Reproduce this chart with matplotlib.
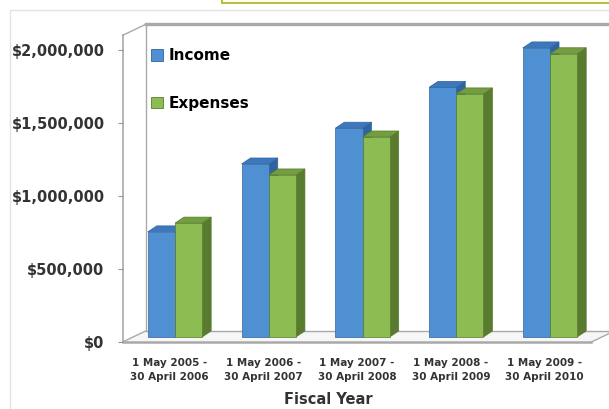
import matplotlib
matplotlib.use('Agg')
import matplotlib.pyplot as plt
from matplotlib.patches import Polygon, Rectangle, Patch
from matplotlib.lines import Line2D
from matplotlib.transforms import IdentityTransform, ScaledTranslation

# data
years = ['1 May 2005 -\n30 April 2006', '1 May 2006 -\n30 April 2007',
         '1 May 2007 -\n30 April 2008', '1 May 2008 -\n30 April 2009',
         '1 May 2009 -\n30 April 2010']
income = [720000, 1185000, 1430000, 1710000, 1980000]
expenses = [780000, 1110000, 1370000, 1665000, 1940000]
yticks = [0, 500000, 1000000, 1500000, 2000000]
ytick_labels = [r'\$0', r'\$500,000', r'\$1,000,000', r'\$1,500,000', r'\$2,000,000']

W, H = 609, 409
FONT = ['DejaVu Sans']
INC = ('#4f90d2', '#3d78bd', '#2f64a0')   # front, top, side
EXP = ('#8dbc52', '#739e3f', '#587b2f')
WALL = '#a9a9a9'

fig = plt.figure(figsize=(W / 100, H / 100), dpi=100)
ax = fig.add_axes([122.6 / W, (H - 342) / H, 468.8 / W, 306.6 / H])
ax.patch.set_visible(False)
ax.set_xlim(-0.5, 4.5)
ax.set_ylim(0, 2100000)
for s in ax.spines.values():
    s.set_visible(False)

# bars sit a little behind the front plane
bar_off = ax.transData + ScaledTranslation(5.5 / 100, 5 / 100, fig.dpi_scale_trans)
wall_d = (23, 11)   # depth of the walls, px
bar_d = (9, 6)      # depth of the bars, px
w = 0.29


def px(trans, x, y):
    return trans.transform((x, y))


def bar3d(xl, val, cols):
    (x0, y0), (x1, y1) = px(bar_off, xl, 0), px(bar_off, xl + w, val)
    dx, dy = bar_d
    side = [(x1, y0), (x1, y1), (x1 + dx, y1 + dy), (x1 + dx, y0 + dy)]
    top = [(x0, y1), (x1, y1), (x1 + dx, y1 + dy), (x0 + dx, y1 + dy)]
    ax.add_patch(Polygon(side, closed=True, fc=cols[2], ec=cols[2], lw=0.5,
                         transform=IdentityTransform(), clip_on=False))
    ax.add_patch(Polygon(top, closed=True, fc=cols[1], ec=cols[2], lw=0.5,
                         transform=IdentityTransform(), clip_on=False))
    ax.add_patch(Rectangle((xl, 0), w, val, fc=cols[0], ec=cols[2], lw=0.5,
                           transform=bar_off, clip_on=False))


for i in range(len(years)):
    bar3d(i - w, income[i], INC)
    bar3d(i, expenses[i], EXP)

# walls and floor
fbl = px(ax.transData, -0.5, 0)
fbr = px(ax.transData, 4.5, 0)
ftl = px(ax.transData, -0.5, 2100000)
bbl = (fbl[0] + wall_d[0], fbl[1] + wall_d[1])
bbr = (fbr[0] + wall_d[0], fbr[1] + wall_d[1])
btl = (ftl[0] + wall_d[0], ftl[1] + wall_d[1])
btr = (W + 50, btl[1])

fig.add_artist(Polygon([fbl, fbr, bbr, bbl], closed=True, fc='#f6f6f6', ec='none',
                       transform=IdentityTransform(), zorder=-2))
segs = [([ftl, fbl], 1.2), ([ftl, btl], 1.0), ([btl, bbl], 1.0), ([fbl, bbl], 1.0),
        ([bbl, bbr], 1.0), ([fbl, fbr], 1.8), ([fbr, bbr], 1.0), ([btl, btr], 2.4)]
for pts, lw in segs:
    fig.add_artist(Line2D([p[0] for p in pts], [p[1] for p in pts], color=WALL, lw=lw,
                          transform=IdentityTransform(), zorder=-1))

# axes text
ax.set_yticks(yticks, ytick_labels)
ax.tick_params(axis='y', length=3.5, width=0.8, color='#999999', pad=9.5,
               labelcolor='#333333')
ax.set_xticks(range(len(years)), years)
ax.tick_params(axis='x', length=0, pad=11.5, labelcolor='#333333')
for lbl in ax.get_yticklabels():
    lbl.set_fontfamily(FONT)
    lbl.set_fontweight('bold')
    lbl.set_fontsize(10.5)
for lbl in ax.get_xticklabels():
    lbl.set_fontfamily(FONT)
    lbl.set_fontweight('bold')
    lbl.set_fontsize(7.5)
    lbl.set_linespacing(1.5)

fig.text(328 / W, 1 - 399 / H, 'Fiscal Year', ha='center', va='center',
         family=FONT, weight='bold', size=10.5, color='#333333')

handles = [Patch(fc=INC[0], ec=INC[2], lw=0.6), Patch(fc=EXP[0], ec=EXP[2], lw=0.6)]
ax.legend(handles, ['Income', 'Expenses'], loc='upper left',
          bbox_to_anchor=(151 / W, 1 - 48 / H), bbox_transform=fig.transFigure,
          frameon=False, handlelength=0.8, handleheight=0.8, handletextpad=0.35,
          labelspacing=2.15, borderpad=0, borderaxespad=0,
          prop=dict(family=FONT, weight='bold', size=11))

# outer frame and the boxed strip at the top
fig.add_artist(Rectangle((10 / W, -0.1), 2, 1.1 - 10 / H, fill=False, ec='#e3e3e3',
                         lw=1, transform=fig.transFigure, zorder=-3))
fig.add_artist(Rectangle((222 / W, 1 - 3 / H), 1, 0.1, fc='#fffff2', ec='#b5b62a',
                         lw=1.3, transform=fig.transFigure, zorder=-3))

fig.savefig('out.png', dpi=100)
